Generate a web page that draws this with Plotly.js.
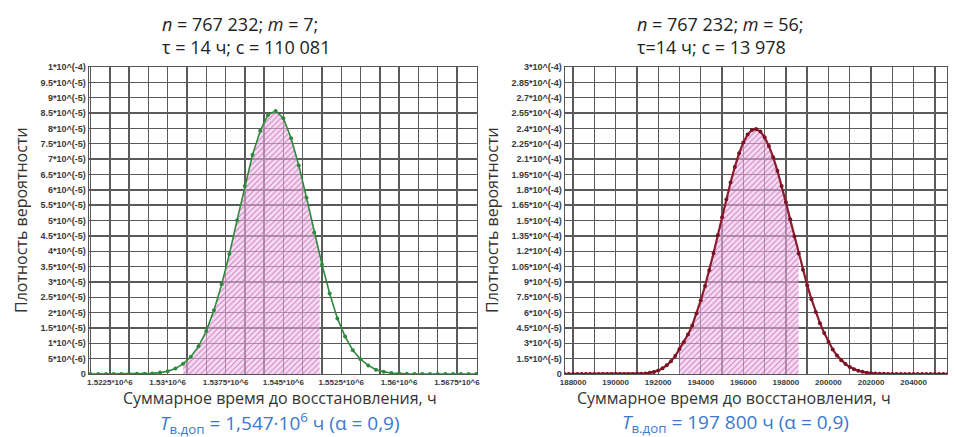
<!DOCTYPE html>
<html>
<head>
<meta charset="utf-8">
<script src="https://cdn.plot.ly/plotly-3.0.1.min.js"></script>
<style>html,body{margin:0;padding:0;background:#fff;}#chart{width:955px;height:437px;}</style>
</head>
<body>
<div id="chart"></div>
<script>
// ---------- LEFT CHART DATA (m = 7) ----------
const leftX = [1520000,1521000,1522000,1523000,1524000,1525000,1526000,1527000,1528000,1529000,
  1530000,1531000,1532000,1533000,1534000,1535000,1536000,1537000,1538000,1539000,
  1540000,1541000,1542000,1543000,1544000,1545000,1546000,1547000,1548000,1549000,
  1550000,1551000,1552000,1553000,1554000,1555000,1556000,1557000,1558000,1559000,
  1560000,1561000,1562000,1563000,1564000,1565000,1566000,1567000,1568000,1569000,1570000];
const leftY = [0,0,0,0,0,0,5e-8,1e-7,2e-7,4.5e-7,
  9e-7,1.8e-6,3.3e-6,5.6e-6,9.0e-6,1.40e-5,2.08e-5,2.92e-5,3.91e-5,5.01e-5,
  6.12e-5,7.14e-5,7.92e-5,8.44e-5,8.57e-5,8.33e-5,7.68e-5,6.79e-5,5.74e-5,4.61e-5,
  3.57e-5,2.62e-5,1.81e-5,1.22e-5,7.7e-6,4.8e-6,2.8e-6,1.4e-6,7e-7,3.5e-7,
  1.5e-7,6e-8,0,0,0,0,0,0,0,0,0];
const leftFillStart = 1532000;
const leftFillEnd = 1549700;
const leftFillEndY = 3.88e-5;
const leftXTickVals = [1522500,1530000,1537500,1545000,1552500,1560000,1567500];
const leftXTickText = ['1.5225*10^6','1.53*10^6','1.5375*10^6','1.545*10^6','1.5525*10^6','1.56*10^6','1.5675*10^6'];
const leftYTickVals = [0,5e-6,1e-5,1.5e-5,2e-5,2.5e-5,3e-5,3.5e-5,4e-5,4.5e-5,5e-5,5.5e-5,6e-5,6.5e-5,7e-5,7.5e-5,8e-5,8.5e-5,9e-5,9.5e-5,1e-4];
const leftYTickText = ['0','5*10^(-6)','1*10^(-5)','1.5*10^(-5)','2*10^(-5)','2.5*10^(-5)','3*10^(-5)','3.5*10^(-5)','4*10^(-5)','4.5*10^(-5)','5*10^(-5)','5.5*10^(-5)','6*10^(-5)','6.5*10^(-5)','7*10^(-5)','7.5*10^(-5)','8*10^(-5)','8.5*10^(-5)','9*10^(-5)','9.5*10^(-5)','1*10^(-4)'];

// ---------- RIGHT CHART DATA (m = 56) ----------
const rightX = [187600,187800,188000,188200,188400,188600,188800,189000,189200,189400,
  189600,189800,190000,190200,190400,190600,190800,191000,191200,191400,
  191600,191800,192000,192200,192400,192600,192800,193000,193200,193400,
  193600,193800,194000,194200,194400,194600,194800,195000,195200,195400,
  195600,195800,196000,196200,196400,196600,196800,197000,197200,197400,
  197600,197800,198000,198200,198400,198600,198800,199000,199200,199400,
  199600,199800,200000,200200,200400,200600,200800,201000,201200,201400,
  201600,201800,202000,202200,202400,202600,202800,203000,203200,203400,
  203600,203800,204000,204200,204400,204600,204800,205000,205200,205400,205600];
const rightY = [0,0,0,0,0,0,0,0,0,0,
  0,0,0,0,0,0,0.001e-4,0.002e-4,0.003e-4,0.006e-4,
  0.011e-4,0.019e-4,0.033e-4,0.055e-4,0.085e-4,0.125e-4,0.175e-4,0.245e-4,0.31e-4,0.385e-4,
  0.475e-4,0.59e-4,0.72e-4,0.86e-4,1.014e-4,1.18e-4,1.355e-4,1.532e-4,1.706e-4,1.872e-4,
  2.024e-4,2.156e-4,2.263e-4,2.34e-4,2.384e-4,2.393e-4,2.369e-4,2.314e-4,2.229e-4,2.119e-4,
  1.987e-4,1.838e-4,1.678e-4,1.511e-4,1.343e-4,1.177e-4,1.018e-4,0.868e-4,0.731e-4,0.607e-4,
  0.497e-4,0.40e-4,0.315e-4,0.24e-4,0.18e-4,0.135e-4,0.097e-4,0.068e-4,0.047e-4,0.032e-4,
  0.021e-4,0.013e-4,0.008e-4,0.005e-4,0.003e-4,0.002e-4,0.001e-4,0,0,0,
  0,0,0,0,0,0,0,0,0,0,0];
const rightFillStart = 193000;
const rightFillEnd = 198600;
const rightXTickVals = [188000,190000,192000,194000,196000,198000,200000,202000,204000];
const rightXTickText = ['188000','190000','192000','194000','196000','198000','200000','202000','204000'];
const rightYTickVals = [0,1.5e-5,3e-5,4.5e-5,6e-5,7.5e-5,9e-5,1.05e-4,1.2e-4,1.35e-4,1.5e-4,1.65e-4,1.8e-4,1.95e-4,2.1e-4,2.25e-4,2.4e-4,2.55e-4,2.7e-4,2.85e-4,3e-4];
const rightYTickText = ['0','1.5*10^(-5)','3*10^(-5)','4.5*10^(-5)','6*10^(-5)','7.5*10^(-5)','9*10^(-5)','1.05*10^(-4)','1.2*10^(-4)','1.35*10^(-4)','1.5*10^(-4)','1.65*10^(-4)','1.8*10^(-4)','1.95*10^(-4)','2.1*10^(-4)','2.25*10^(-4)','2.4*10^(-4)','2.55*10^(-4)','2.7*10^(-4)','2.85*10^(-4)','3*10^(-4)'];

// ---------- helpers ----------
function fillPart(xs, ys, a, b, endY) {
  const fx = [], fy = [];
  for (let i = 0; i < xs.length; i++) {
    if (xs[i] >= a && xs[i] <= b) { fx.push(xs[i]); fy.push(ys[i]); }
  }
  if (endY !== undefined && fx[fx.length - 1] < b) { fx.push(b); fy.push(endY); }
  return {fx, fy};
}
const bold = arr => arr.map(s => '<b>' + s + '</b>');
const lf = fillPart(leftX, leftY, leftFillStart, leftFillEnd, leftFillEndY);
const rf = fillPart(rightX, rightY, rightFillStart, rightFillEnd);

const pattern = {shape: '/', bgcolor: 'rgba(236,192,230,0.55)', fgcolor: 'rgba(196,80,176,0.7)', size: 4, solidity: 0.25, fillmode: 'replace'};

const traces = [
  {x: lf.fx, y: lf.fy, xaxis: 'x', yaxis: 'y', type: 'scatter', mode: 'none', fill: 'tozeroy',
   fillcolor: 'rgba(236,192,230,0.55)', fillpattern: pattern, hoverinfo: 'skip', showlegend: false},
  {x: leftX, y: leftY, xaxis: 'x', yaxis: 'y', type: 'scatter', mode: 'lines+markers',
   line: {color: '#2f8a3c', width: 1.6}, marker: {color: '#2f8a3c', size: 4}, showlegend: false},
  {x: rf.fx, y: rf.fy, xaxis: 'x2', yaxis: 'y2', type: 'scatter', mode: 'none', fill: 'tozeroy',
   fillcolor: 'rgba(236,192,230,0.55)', fillpattern: pattern, hoverinfo: 'skip', showlegend: false},
  {x: rightX, y: rightY, xaxis: 'x2', yaxis: 'y2', type: 'scatter', mode: 'lines+markers',
   line: {color: '#8c1b2c', width: 2.2}, marker: {color: '#7a1424', size: 4}, showlegend: false}
];

const gridC = '#5a5a5a';
const yTickFont = {family: 'Liberation Sans, Arial, sans-serif', size: 9, color: '#3a3a3a'};
const xTickFont = {family: 'Liberation Sans, Arial, sans-serif', size: 8, color: '#3a3a3a'};
function xAx(domain, range, tv, tt, tick0, dtick, anchor) {
  return {domain, range, anchor, tickmode: 'array', tickvals: tv, ticktext: bold(tt), ticks: '',
    showgrid: true, gridcolor: gridC, gridwidth: 1.4, zeroline: false,
    minor: {tickmode: 'linear', tick0, dtick, showgrid: true, gridcolor: gridC, gridwidth: 1.4, ticks: ''},
    showline: true, mirror: true, linecolor: '#555', linewidth: 1.4, tickfont: xTickFont, fixedrange: true};
}
function yAx(domain, range, tv, tt, anchor) {
  return {domain, range, anchor, tickmode: 'array', tickvals: tv, ticktext: bold(tt), ticks: '',
    showgrid: true, gridcolor: gridC, gridwidth: 1.4, zeroline: false,
    showline: true, mirror: true, linecolor: '#555', linewidth: 1.4, tickfont: yTickFont, fixedrange: true};
}

const W = 955, H = 437;
const yDom = [(H - 374) / H, (H - 67) / H];
const layout = {
  width: W, height: H, margin: {l: 0, r: 0, t: 0, b: 0},
  paper_bgcolor: '#fff', plot_bgcolor: '#fff', showlegend: false,
  xaxis: xAx([89 / W, 477 / W], [1519800, 1570100], leftXTickVals, leftXTickText, 1520000, 2500, 'y'),
  yaxis: yAx(yDom, [0, 1e-4], leftYTickVals, leftYTickText, 'x'),
  xaxis2: xAx([565 / W, 947 / W], [187620, 205570], rightXTickVals, rightXTickText, 188000, 1000, 'y2'),
  yaxis2: yAx(yDom, [0, 3e-4], rightYTickVals, rightYTickText, 'x2'),
  annotations: [
    {xref: 'paper', yref: 'paper', x: 160 / W, y: 1 - 36 / H, xanchor: 'left', yanchor: 'middle', align: 'left', showarrow: false,
     text: '<i>n</i> = 767 232; <i>m</i> = 7;<br>τ = 14 ч; c = 110 081',
     font: {family: 'Open Sans, sans-serif', size: 18, color: '#222'}},
    {xref: 'paper', yref: 'paper', x: 635 / W, y: 1 - 36 / H, xanchor: 'left', yanchor: 'middle', align: 'left', showarrow: false,
     text: '<i>n</i> = 767 232; <i>m</i> = 56;<br>τ=14 ч; c = 13 978',
     font: {family: 'Open Sans, sans-serif', size: 18, color: '#222'}},
    {xref: 'paper', yref: 'paper', x: 21 / W, y: 1 - 220 / H, xanchor: 'center', yanchor: 'middle', textangle: -90, showarrow: false,
     text: 'Плотность вероятности', font: {family: 'Open Sans, sans-serif', size: 16, color: '#333'}},
    {xref: 'paper', yref: 'paper', x: 492 / W, y: 1 - 220 / H, xanchor: 'center', yanchor: 'middle', textangle: -90, showarrow: false,
     text: 'Плотность вероятности', font: {family: 'Open Sans, sans-serif', size: 16, color: '#333'}},
    {xref: 'paper', yref: 'paper', x: 280 / W, y: 1 - 398 / H, xanchor: 'center', yanchor: 'middle', showarrow: false,
     text: 'Суммарное время до восстановления, ч', font: {family: 'Open Sans, sans-serif', size: 16, color: '#333'}},
    {xref: 'paper', yref: 'paper', x: 734 / W, y: 1 - 398 / H, xanchor: 'center', yanchor: 'middle', showarrow: false,
     text: 'Суммарное время до восстановления, ч', font: {family: 'Open Sans, sans-serif', size: 16, color: '#333'}},
    {xref: 'paper', yref: 'paper', x: 280 / W, y: 1 - 423 / H, xanchor: 'center', yanchor: 'middle', showarrow: false,
     text: '<i>T</i><sub>в.доп</sub> = 1,547·10<sup>6</sup> ч (α = 0,9)', font: {family: 'Open Sans, sans-serif', size: 19, color: '#3b78d0'}},
    {xref: 'paper', yref: 'paper', x: 735 / W, y: 1 - 423 / H, xanchor: 'center', yanchor: 'middle', showarrow: false,
     text: '<i>T</i><sub>в.доп</sub> = 197 800 ч (α = 0,9)', font: {family: 'Open Sans, sans-serif', size: 19, color: '#3b78d0'}}
  ]
};

Plotly.newPlot('chart', traces, layout, {staticPlot: true, displayModeBar: false});
</script>
</body>
</html>
